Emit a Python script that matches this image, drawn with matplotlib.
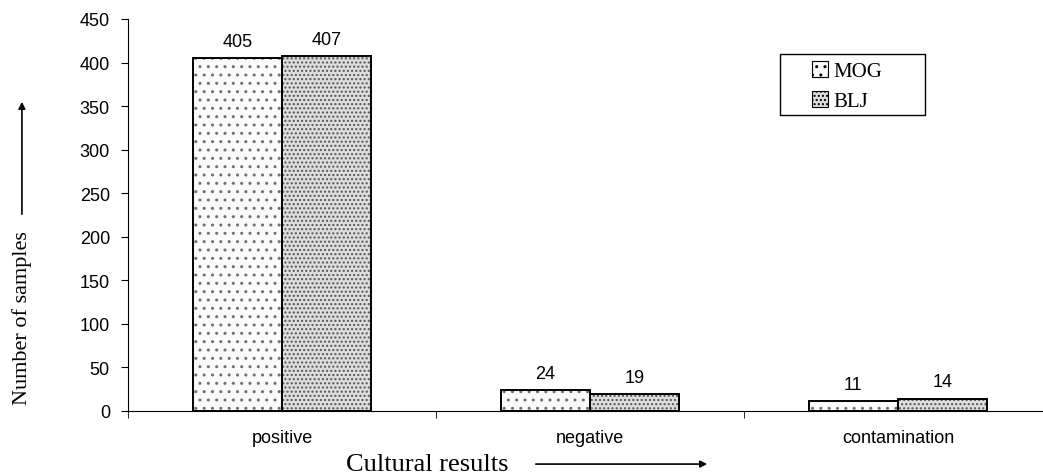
import numpy as np
import matplotlib
matplotlib.use('Agg')
from matplotlib import pyplot as plt
from matplotlib.patches import FancyArrowPatch, Rectangle

categories = ['positive', 'negative', 'contamination']
mog = [405, 24, 11]
blj = [407, 19, 14]
series_names = ['MOG', 'BLJ']

plt.rcParams['hatch.linewidth'] = 1.0
fig = plt.figure(figsize=(10.43, 4.77), dpi=100)
ax = fig.add_axes([0.1227, 0.1363, 0.886, 0.8218])

x = np.arange(len(categories))
w = 0.29
#hatched fill first, then black outline on top
b1 = ax.bar(x - w/2, mog, w, color='#fafafa', edgecolor='#707070', hatch='..', linewidth=0)
b2 = ax.bar(x + w/2, blj, w, color='#dddddd', edgecolor='#555555', hatch='....', linewidth=0)
ax.bar(x - w/2, mog, w, fill=False, edgecolor='black', linewidth=1.4)
ax.bar(x + w/2, blj, w, fill=False, edgecolor='black', linewidth=1.4)

for xs, vals in [(x - w/2, mog), (x + w/2, blj)]:
    for xi, v in zip(xs, vals):
        ax.annotate(str(v), (xi, v), xytext=(0, 6), textcoords='offset points',
                    ha='center', va='bottom', fontsize=13, family='Liberation Sans')

ax.set_xlim(-0.5, 2.5)
ax.set_ylim(0, 450)
ax.set_yticks(range(0, 451, 50))
ax.set_xticks(x)
ax.set_xticklabels(categories)
ax.set_xticks([-0.5, 0.5, 1.5, 2.5], minor=True)
ax.tick_params(axis='x', which='major', length=0, pad=13)
ax.tick_params(axis='x', which='minor', length=5, direction='out')
ax.tick_params(axis='y', length=5, direction='out', pad=8)
for lab in ax.get_xticklabels() + ax.get_yticklabels():
    lab.set_family('Liberation Sans')
    lab.set_fontsize(13)
for s in ['top', 'right']:
    ax.spines[s].set_visible(False)
ax.spines['bottom'].set_clip_on(False)

# legend entries without frame, box drawn separately so the entries sit centred
leg = ax.legend([b1, b2], series_names, loc='center left', bbox_to_anchor=(0.740, 0.829),
                prop={'family': 'Liberation Serif', 'size': 15}, frameon=False,
                handlelength=0.8, handleheight=0.8, handletextpad=0.25,
                borderpad=0, labelspacing=0.5, borderaxespad=0)
for h in leg.legend_handles:
    h.set_linewidth(0.8)
    h.set_edgecolor('black')
ax.add_patch(Rectangle((0.7056, 0.755), 0.157, 0.1557, transform=ax.transAxes,
                       fill=False, edgecolor='black', linewidth=1.0, clip_on=False))

fig.text(0.021, 0.333, 'Number of samples', rotation=90, ha='center', va='center',
         family='Liberation Serif', fontsize=16)
fig.text(0.41, 0.025, 'Cultural results', ha='center', va='center',
         family='Liberation Serif', fontsize=19)
fig.add_artist(FancyArrowPatch((0.021, 1 - 218/477), (0.021, 1 - 100/477),
               transform=fig.transFigure, arrowstyle='-|>', mutation_scale=10, color='black', lw=1.2))
fig.add_artist(FancyArrowPatch((533/1043, 0.025), (710/1043, 0.025),
               transform=fig.transFigure, arrowstyle='-|>', mutation_scale=10, color='black', lw=1.2))

fig.savefig('out.png', dpi=100)
